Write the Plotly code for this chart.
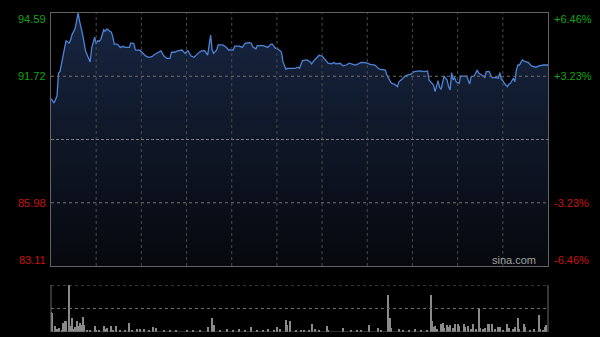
import plotly.graph_objects as go

# ---- data (minutes from 09:30, lunch break removed) ----
minute = [0, 2, 4, 5, 6, 8, 9, 10, 12, 13, 14, 16, 17, 18, 19, 21, 23, 25, 26, 27,
          29, 30, 31, 32, 33, 35, 36, 37, 38, 39, 40, 41, 42, 44, 46, 48, 49, 52, 53, 55,
          56, 59, 61, 63, 65, 67, 69, 71, 73, 75, 77, 79, 80, 82, 84, 87, 89, 91, 93, 95,
          98, 100, 102, 104, 105, 106, 107, 108, 110, 111, 114, 116, 118, 121, 122, 125, 127, 129, 132, 133,
          134, 136, 137, 141, 144, 146, 147, 149, 150, 152, 153, 154, 156, 157, 162, 164, 165, 167, 170, 172,
          173, 175, 177, 178, 180, 182, 184, 186, 188, 189, 192, 194, 196, 198, 202, 204, 206, 209, 212, 215,
          218, 222, 223, 226, 228, 230, 231, 233, 235, 237, 239, 241, 245, 248, 250, 251, 254, 255, 257, 258,
          259, 261, 263, 264, 265, 266, 267, 268, 269, 271, 272, 276, 277, 278, 279, 281, 283, 284, 286, 288,
          289, 291, 292, 293, 295, 297, 298, 299, 300, 301, 303, 304, 305, 307, 308, 309, 310, 311, 313, 315,
          317, 319, 322, 324, 327, 330]
price = [90.70, 90.51, 90.82, 91.87, 91.94, 92.55, 93.00, 93.33, 93.23, 93.36, 93.61, 93.88, 94.21, 94.59, 94.21, 93.61, 92.85, 92.55, 92.37, 93.00,
         93.49, 93.18, 93.33, 93.31, 93.38, 93.83, 93.76, 93.86, 93.83, 93.76, 93.73, 93.53, 93.18, 93.18, 93.03, 93.08, 93.03, 93.03, 93.23, 93.20,
         92.92, 92.90, 92.78, 92.63, 92.58, 92.61, 92.72, 92.79, 92.87, 92.64, 92.53, 92.53, 92.81, 92.81, 92.87, 92.91, 92.76, 92.88, 92.64, 92.58,
         92.79, 92.87, 92.88, 92.68, 93.22, 93.59, 92.91, 92.76, 92.91, 93.14, 93.14, 93.06, 92.91, 92.91, 93.09, 93.09, 93.03, 93.22, 93.24, 93.22,
         93.06, 92.96, 93.11, 93.11, 93.03, 93.18, 93.18, 92.99, 92.99, 92.88, 92.82, 92.38, 92.04, 92.08, 92.08, 92.13, 92.08, 92.43, 92.46, 92.38,
         92.28, 92.46, 92.58, 92.67, 92.64, 92.46, 92.31, 92.28, 92.34, 92.28, 92.31, 92.19, 92.23, 92.31, 92.23, 92.28, 92.35, 92.34, 92.26, 92.23,
         92.04, 92.00, 91.78, 91.40, 91.36, 91.25, 91.47, 91.58, 91.73, 91.78, 91.82, 91.93, 91.96, 91.93, 91.96, 91.55, 91.32, 91.02, 91.52, 91.22,
         91.13, 91.73, 91.55, 91.25, 91.10, 91.88, 91.55, 91.67, 91.47, 91.40, 91.73, 91.73, 91.58, 91.37, 91.70, 91.73, 92.00, 91.85, 91.78, 91.67,
         91.93, 91.93, 91.78, 91.65, 91.67, 91.63, 91.88, 91.58, 91.52, 91.40, 91.25, 91.36, 91.40, 91.63, 91.47, 92.00, 92.23, 92.23, 92.46, 92.38,
         92.34, 92.19, 92.13, 92.19, 92.23, 92.23]

vol_minute = [0, 1, 3, 4, 5, 7, 8, 9, 10, 12, 13, 14, 15, 16, 17, 18, 19, 20, 21, 22,
              24, 26, 29, 30, 32, 35, 36, 37, 40, 41, 43, 46, 49, 52, 54, 57, 59, 62, 65, 68,
              70, 75, 79, 83, 90, 94, 99, 104, 107, 108, 112, 117, 121, 125, 129, 133, 137, 141, 144, 148,
              150, 152, 156, 157, 159, 163, 166, 168, 171, 173, 175, 178, 183, 184, 194, 199, 203, 206, 211, 217,
              219, 224, 225, 226, 231, 234, 238, 242, 246, 250, 252, 253, 254, 255, 256, 259, 260, 261, 263, 264,
              265, 267, 268, 270, 271, 274, 275, 277, 279, 280, 282, 284, 285, 287, 288, 290, 291, 293, 295, 297,
              298, 300, 303, 304, 307, 308, 310, 311, 314, 315, 318, 321, 324, 325, 327, 328, 329]
volume = [42, 40, 13, 6, 9, 5, 20, 24, 24, 100, 12, 30, 6, 11, 24, 13, 19, 15, 32, 15,
          4, 4, 12, 4, 5, 12, 6, 9, 12, 4, 13, 5, 3, 20, 3, 6, 6, 6, 5, 10,
          8, 5, 3, 3, 5, 4, 3, 10, 30, 15, 3, 6, 3, 6, 3, 10, 4, 3, 6, 3,
          10, 6, 26, 15, 23, 3, 3, 3, 5, 16, 6, 3, 12, 5, 9, 3, 5, 5, 14, 8,
          4, 79, 30, 8, 6, 5, 5, 6, 3, 3, 79, 23, 10, 12, 6, 16, 20, 8, 14, 10,
          14, 8, 16, 16, 12, 18, 10, 12, 6, 16, 6, 50, 8, 6, 8, 18, 16, 16, 6, 10,
          10, 5, 16, 8, 6, 10, 30, 6, 18, 10, 5, 6, 37, 6, 5, 10, 15]

prev_close = 88.85
left_labels = ["94.59", "91.72", "85.98", "83.11"]
left_values = [94.59, 91.72, 85.98, 83.11]
right_labels = ["+6.46%", "+3.23%", "-3.23%", "-6.46%"]
grid_minutes = [30, 60, 90, 120, 150, 180, 210, 240, 270, 300]

GREEN = "#17a317"
RED = "#cc1111"
FONT = "Liberation Sans, Arial, sans-serif"

fig = go.Figure()
fig.add_trace(go.Scatter(
    x=minute, y=price, mode="lines",
    line=dict(color="#4d84d8", width=1.3),
    fill="tozeroy",
    fillgradient=dict(type="vertical", start=83.11, stop=94.59,
                      colorscale=[[0, "rgb(6,8,13)"], [1, "rgb(24,38,66)"]]),
    hoverinfo="skip", xaxis="x", yaxis="y"))

fig.add_trace(go.Bar(
    x=vol_minute, y=volume, marker=dict(color="#8a8a8a", line=dict(width=0)),
    width=0.7, hoverinfo="skip", xaxis="x2", yaxis="y2"))

xdom = [51 / 600, 548 / 600]
shapes = []
for m in grid_minutes:
    shapes.append(dict(type="line", xref="x", yref="y domain", x0=m, x1=m, y0=0, y1=1,
                       line=dict(color="#4a4a4a", width=1, dash="dot"), layer="above"))
for v, d, c in [(91.72, "dot", "#707070"), (85.98, "dot", "#707070"), (prev_close, "3px,2px", "#7c7c7c")]:
    shapes.append(dict(type="line", xref="x domain", yref="y", x0=0, x1=1, y0=v, y1=v,
                       line=dict(color=c, width=1, dash=d), layer="above"))
# volume frame
shapes += [
    dict(type="line", xref="x2 domain", yref="y2", x0=0, x1=1, y0=100, y1=100, line=dict(color="#6e6e6e", width=1, dash="dot")),
    dict(type="line", xref="x2 domain", yref="y2", x0=0, x1=1, y0=50, y1=50, line=dict(color="#6e6e6e", width=1, dash="dot")),
    dict(type="line", xref="x2 domain", yref="y2", x0=0, x1=1, y0=0, y1=0, line=dict(color="#5a5a5a", width=1)),
    dict(type="line", xref="x2 domain", yref="y2 domain", x0=0, x1=0, y0=0, y1=1, line=dict(color="#6a6a6a", width=1)),
    dict(type="line", xref="x2 domain", yref="y2 domain", x0=1, x1=1, y0=0, y1=1, line=dict(color="#6a6a6a", width=1)),
]

annotations = []
for i, (lab, v, rl) in enumerate(zip(left_labels, left_values, right_labels)):
    col = GREEN if v > prev_close else RED
    if i == 0:
        ya, ys = "top", 2
    elif i == len(left_values) - 1:
        ya, ys = "bottom", -2
    else:
        ya, ys = "middle", 0
    annotations.append(dict(text=lab, xref="paper", yref="y", x=48 / 600, y=v, xanchor="right",
                            yanchor=ya, yshift=ys, showarrow=False,
                            font=dict(family=FONT, size=11, color=col)))
    annotations.append(dict(text=rl, xref="paper", yref="y", x=552 / 600, y=v, xanchor="left",
                            yanchor=ya, yshift=ys, showarrow=False,
                            font=dict(family=FONT, size=11, color=col)))
annotations.append(dict(text="sina.com", xref="paper", yref="y", x=538 / 600, y=83.11,
                        xanchor="right", yanchor="bottom", yshift=-2, showarrow=False,
                        font=dict(family=FONT, size=11, color="#a0a0a0")))

fig.update_layout(
    width=600, height=337, margin=dict(l=0, r=0, t=0, b=0),
    paper_bgcolor="black", plot_bgcolor="black", showlegend=False,
    bargap=0,
    xaxis=dict(domain=xdom, range=[0, 330], showticklabels=False, showgrid=False,
               zeroline=False, showline=True, linecolor="#626262", linewidth=1, mirror=True,
               ticks="", fixedrange=True),
    yaxis=dict(domain=[1 - 266 / 337, 1 - 13 / 337], range=[83.11, 94.59], showgrid=False,
               showticklabels=False, zeroline=False, showline=True, linecolor="#626262",
               linewidth=1, mirror=True, ticks="", fixedrange=True),
    xaxis2=dict(domain=xdom, anchor="y2", range=[0, 330], showgrid=False, showticklabels=False,
                zeroline=False, showline=False, ticks="", fixedrange=True),
    yaxis2=dict(domain=[5 / 337, 52 / 337], anchor="x2", range=[0, 100], showgrid=False,
                showticklabels=False, zeroline=False, showline=False, ticks="", fixedrange=True),
    shapes=shapes, annotations=annotations,
)

fig.write_html("out.html", config=dict(displayModeBar=False))
